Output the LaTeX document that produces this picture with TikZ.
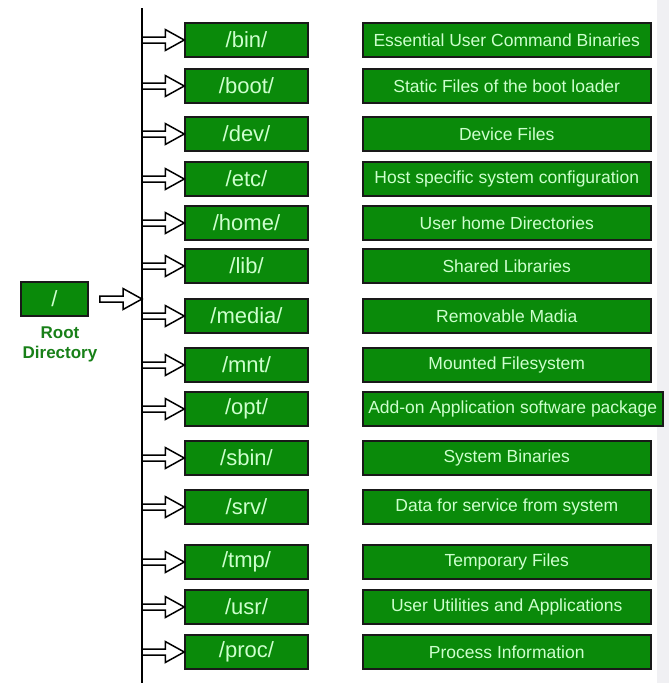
\documentclass[tikz,border=0pt]{standalone}
\usepackage{fontspec}
\setmainfont{Liberation Sans}
\usepackage{tikz}
\usetikzlibrary{positioning,calc}

\definecolor{boxgreen}{RGB}{10,138,10}
\definecolor{lightgreen}{RGB}{205,255,205}
\definecolor{labelgreen}{RGB}{24,128,24}
\definecolor{stripgray}{RGB}{240,240,243}

\tikzset{
  dirbox/.style={draw=black!90, line width=1.5pt, fill=boxgreen, text=lightgreen,
    minimum width=123pt, minimum height=34pt, inner sep=0pt,
    font=\fontsize{22}{25}\selectfont},
  descbox/.style={draw=black!90, line width=1.5pt, fill=boxgreen, text=lightgreen,
    minimum width=288pt, minimum height=34pt, inner sep=0pt, anchor=west,
    font=\fontsize{17.5}{20}\selectfont},
  rootlabel/.style={text=labelgreen, align=center,
    font=\fontsize{17}{20}\selectfont\bfseries},
  hollow/.style={draw=black, fill=white, line width=1.5pt, to path={
    let \p1=(\tikztostart), \p2=(\tikztotarget) in
    (\x1,\y1+3pt) -- (\x2-19pt,\y1+3pt) -- (\x2-19pt,\y1+10.5pt) -- (\x2,\y1)
    -- (\x2-19pt,\y1-10.5pt) -- (\x2-19pt,\y1-3pt) -- (\x1,\y1-3pt) -- cycle}},
}

\begin{document}
\begin{tikzpicture}[x=1pt, y=-1pt]
      \useasboundingbox (0,0) rectangle (669,683);
      \fill[stripgray] (657,0) rectangle (669,683);

      % Radice
      \node[dirbox, minimum width=67pt] (root) at (54.5,299) {/};
      \node[rootlabel] (rootlbl) at (60,344) {Root\\Directory};

      % Linea verticale
      \coordinate (top) at (142,8);
      \coordinate (bottom) at (142,683);
      \draw[line width=1.5pt] (top) -- (bottom);
      \draw[hollow] ([xshift=11pt]root.east) to (top |- root.east);

      % Directory
      \node[dirbox] (bin) at (246.5,40) {/bin/};
      \node[dirbox] (boot) at (246.5,86) {/boot/};
      \node[dirbox] (dev) at (246.5,134) {/dev/};
      \node[dirbox] (etc) at (246.5,179) {/etc/};
      \node[dirbox] (home) at (246.5,223) {/home/};
      \node[dirbox] (lib) at (246.5,266) {/lib/};
      \node[dirbox] (media) at (246.5,316) {/media/};
      \node[dirbox] (mnt) at (246.5,365) {/mnt/};
      \node[dirbox] (opt) at (246.5,409) {/opt/};
      \node[dirbox] (sbin) at (246.5,458) {/sbin/};
      \node[dirbox] (srv) at (246.5,507) {/srv/};
      \node[dirbox] (tmp) at (246.5,562) {/tmp/};
      \node[dirbox] (usr) at (246.5,607) {/usr/};
      \node[dirbox] (proc) at (246.5,652) {/proc/};

      % Descrizioni
      \node[descbox] (bin-d) at (362,40) {Essential User Command Binaries};
      \node[descbox] (boot-d) at (362,86) {Static Files of the boot loader};
      \node[descbox] (dev-d) at (362,134) {Device Files};
      \node[descbox] (etc-d) at (362,179) {Host specific system configuration};
      \node[descbox] (home-d) at (362,223) {User home Directories};
      \node[descbox] (lib-d) at (362,266) {Shared Libraries};
      \node[descbox] (media-d) at (362,316) {Removable Madia};
      \node[descbox] (mnt-d) at (362,365) {Mounted Filesystem};
      \node[descbox, minimum width=300pt] (opt-d) at (362,409) {Add-on Application software package};
      \node[descbox] (sbin-d) at (362,458) {System Binaries};
      \node[descbox] (srv-d) at (362,507) {Data for service from system};
      \node[descbox] (tmp-d) at (362,562) {Temporary Files};
      \node[descbox] (usr-d) at (362,607) {User Utilities and Applications};
      \node[descbox] (proc-d) at (362,652) {Process Information};

      % Frecce
      \draw[hollow] (top |- bin.west) to (bin.west);
      \draw[hollow] (top |- boot.west) to (boot.west);
      \draw[hollow] (top |- dev.west) to (dev.west);
      \draw[hollow] (top |- etc.west) to (etc.west);
      \draw[hollow] (top |- home.west) to (home.west);
      \draw[hollow] (top |- lib.west) to (lib.west);
      \draw[hollow] (top |- media.west) to (media.west);
      \draw[hollow] (top |- mnt.west) to (mnt.west);
      \draw[hollow] (top |- opt.west) to (opt.west);
      \draw[hollow] (top |- sbin.west) to (sbin.west);
      \draw[hollow] (top |- srv.west) to (srv.west);
      \draw[hollow] (top |- tmp.west) to (tmp.west);
      \draw[hollow] (top |- usr.west) to (usr.west);
      \draw[hollow] (top |- proc.west) to (proc.west);
\end{tikzpicture}
\end{document}
